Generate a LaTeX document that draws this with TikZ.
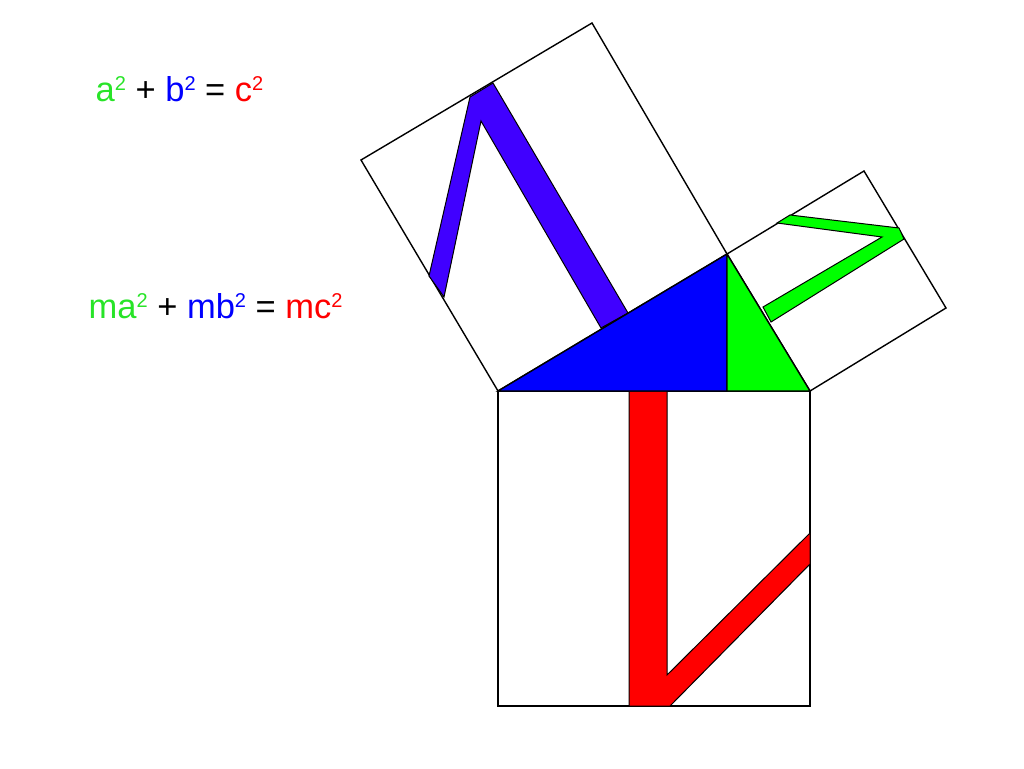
\documentclass[tikz,border=0pt]{standalone}
\usepackage{fontspec}
\setmainfont{Liberation Sans}
\usetikzlibrary{calc}
\definecolor{violetbar}{RGB}{64,0,255}
\definecolor{eqgreen}{RGB}{40,228,40}
\newcommand{\sqtwo}{\raisebox{11pt}{\fontsize{20}{20}\selectfont 2}}
\tikzset{eq/.style={anchor=base west, inner sep=0pt, font=\fontsize{34.5}{40}\selectfont}}

\begin{document}
\begin{tikzpicture}[x=1pt, y=-1pt, line width=1.4pt]
    \useasboundingbox (0,0) rectangle (1024,768);
    \coordinate (A) at (498,391);
    \coordinate (B) at (810,391);
    \coordinate (C) at (727,254);
    \coordinate (F) at (727,391);
    % the three squares
    \draw (A) -- (C) -- (592,23) -- (361,160) -- cycle;
    \draw (C) -- (864,171) -- (946,308) -- (B) -- cycle;
    \draw (A) -- (B) -- (810,706) -- (498,706) -- cycle;
    % letters in the squares
    \draw [fill=violetbar, line width=1pt] (429,276) -- (470,97) -- (493,83) -- (628,313) -- (601,328) -- (481,121) -- (444,297) -- cycle;
    \draw [fill=green, line width=1pt] (790,215) -- (899,228) -- (904,239) -- (771,322) -- (763,307) -- (882,237) -- (777,223) -- cycle;
    \draw [fill=red, line width=1pt] (629,391) -- (667,391) -- (667,675) -- (810,533) -- (810,564) -- (670,706) -- (629,706) -- cycle;
    % the triangle
    \draw [fill=blue] (A) -- (C) -- (F) -- cycle;
    \draw [fill=green] (C) -- (B) -- (F) -- cycle;
    % equations
    \node [eq] (eq1) at (95,101) {\textcolor{eqgreen}{a\sqtwo} + \textcolor{blue}{b\sqtwo} = \textcolor{red}{c\sqtwo}};
    \node [eq] (eq2) at (88,318) {\textcolor{eqgreen}{ma\sqtwo} + \textcolor{blue}{mb\sqtwo} = \textcolor{red}{mc\sqtwo}};
\end{tikzpicture}
\end{document}
